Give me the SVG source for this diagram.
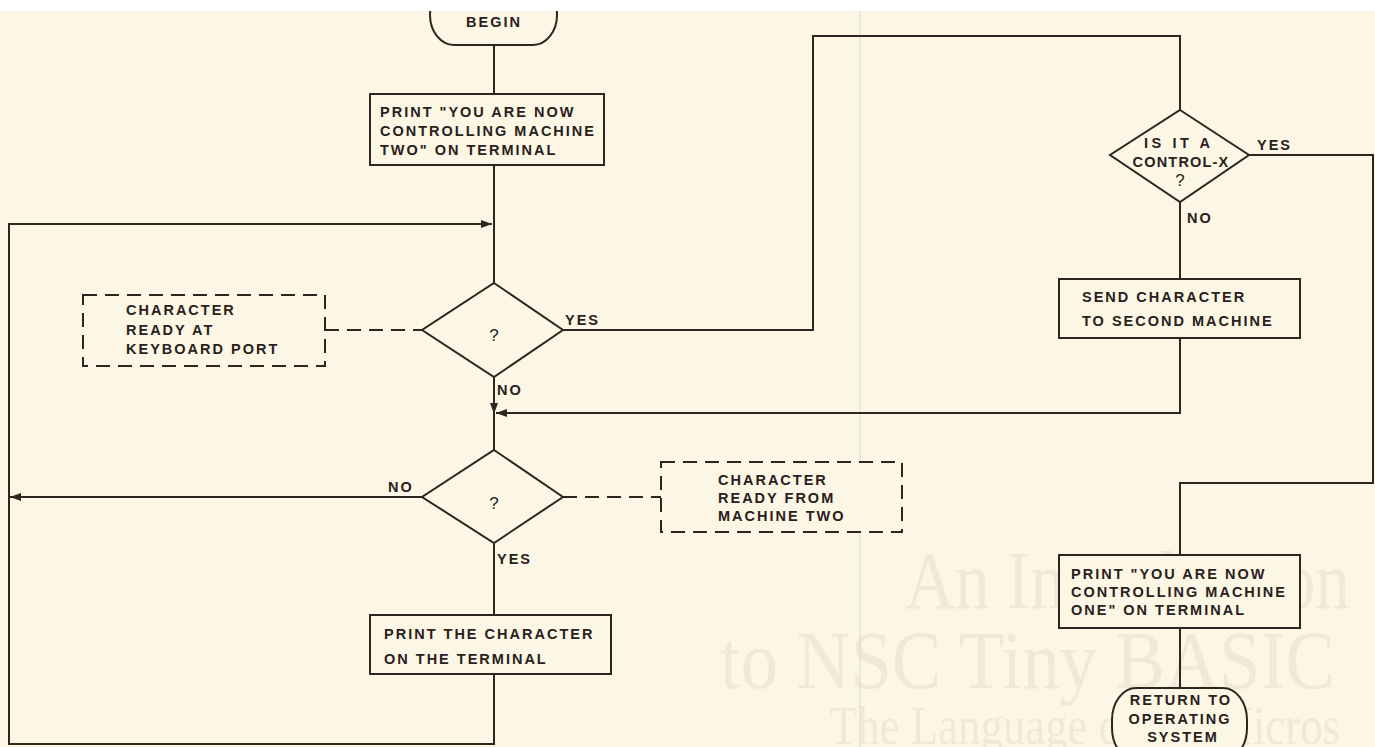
<svg xmlns="http://www.w3.org/2000/svg" width="1375" height="747" viewBox="0 0 1375 747">
<defs>
<style>
.bg{fill:#fbf7e4}
.ln{fill:none;stroke:#2e2420;stroke-width:2;stroke-linejoin:miter}
.box{fill:#fbf7e4;stroke:#2e2420;stroke-width:2}
.dbox{fill:#fbf7e4;stroke:#2e2420;stroke-width:2;stroke-dasharray:14 8}
.dl{fill:none;stroke:#2e2420;stroke-width:2;stroke-dasharray:14 8}
.t{font-family:"Liberation Sans",Arial,sans-serif;font-weight:bold;font-size:14.5px;letter-spacing:2px;fill:#2a201c}
.q{font-family:"Liberation Sans",Arial,sans-serif;font-size:17px;fill:#2a201c;text-anchor:middle}
.c{text-anchor:middle}
.ghost{font-family:"Liberation Serif","Times New Roman",serif;fill:#efe9d6}
</style>
<marker id="ah" viewBox="0 0 11 8" refX="11" refY="4" markerWidth="11" markerHeight="8" markerUnits="userSpaceOnUse" orient="auto">
<path d="M0,0 L11,4 L0,8 z" fill="#2e2420"/>
</marker>
</defs>
<rect class="bg" x="0" y="0" width="1375" height="747"/>
<g id="ghost-text">
<text class="ghost" x="905" y="608" font-size="82" textLength="445" lengthAdjust="spacingAndGlyphs">An Introduction</text>
<text class="ghost" x="720" y="688" font-size="82" textLength="615" lengthAdjust="spacingAndGlyphs">to NSC Tiny BASIC</text>
<text class="ghost" x="830" y="744" font-size="54" textLength="510" lengthAdjust="spacingAndGlyphs">The Language of the Micros</text>
</g>
<line x1="860" y1="11" x2="860" y2="747" stroke="#ded7d2" stroke-width="1"/>
<g id="connectors">
<line class="ln" x1="494" y1="45" x2="494" y2="94"/>
<line class="ln" x1="494" y1="165" x2="494" y2="283"/>
<path class="ln" d="M494,674 L494,744 L9,744 L9,224 L492,224" marker-end="url(#ah)"/>
<line class="ln" x1="494" y1="377" x2="494" y2="414" marker-end="url(#ah)"/>
<line class="ln" x1="494" y1="405" x2="494" y2="450"/>
<path class="ln" d="M563,330 L813,330 L813,36 L1180,36 L1180,110"/>
<line class="ln" x1="1180" y1="202" x2="1180" y2="279"/>
<path class="ln" d="M1180,338 L1180,413 L496,413" marker-end="url(#ah)"/>
<path class="ln" d="M422,497 L10,497" marker-end="url(#ah)"/>
<line class="ln" x1="494" y1="543" x2="494" y2="615"/>
<path class="ln" d="M1249,155 L1373,155 L1373,483 L1180,483 L1180,555"/>
<line class="ln" x1="1180" y1="628" x2="1180" y2="688"/>
<line class="dl" x1="325" y1="330" x2="422" y2="330"/>
<line class="dl" x1="563" y1="497" x2="661" y2="497"/>
<text class="t" x="565" y="325">YES</text>
<text class="t" x="497" y="395">NO</text>
<text class="t" x="388" y="492">NO</text>
<text class="t" x="497" y="564">YES</text>
<text class="t" x="1257" y="150">YES</text>
<text class="t" x="1187" y="223">NO</text>
</g>
<g id="begin">
<rect class="box" x="430" y="-15" width="127" height="60" rx="24" ry="30"/>
<text class="t c" x="494" y="27">BEGIN</text>
</g>
<g id="print-two">
<rect class="box" x="370" y="94" width="234" height="71"/>
<text class="t" x="380" y="117">PRINT "YOU ARE NOW</text>
<text class="t" x="380" y="136">CONTROLLING MACHINE</text>
<text class="t" x="380" y="155">TWO" ON TERMINAL</text>
</g>
<g id="decision-keyboard">
<polygon class="box" points="494,283 563,330 494,377 422,330"/>
<text class="q" x="494" y="341">?</text>
</g>
<g id="note-keyboard">
<rect class="dbox" x="83" y="295" width="242" height="71"/>
<text class="t" x="126" y="315">CHARACTER</text>
<text class="t" x="126" y="335">READY AT</text>
<text class="t" x="126" y="354">KEYBOARD PORT</text>
</g>
<g id="decision-machine">
<polygon class="box" points="494,450 563,497 494,543 422,497"/>
<text class="q" x="494" y="509">?</text>
</g>
<g id="note-machine">
<rect class="dbox" x="661" y="462" width="241" height="70"/>
<text class="t" x="718" y="485">CHARACTER</text>
<text class="t" x="718" y="503">READY FROM</text>
<text class="t" x="718" y="521">MACHINE TWO</text>
</g>
<g id="print-char">
<rect class="box" x="370" y="615" width="241" height="59"/>
<text class="t" x="384" y="639">PRINT THE CHARACTER</text>
<text class="t" x="384" y="664">ON THE  TERMINAL</text>
</g>
<g id="decision-ctrlx">
<polygon class="box" points="1180,110 1249,155 1180,202 1110,155"/>
<text class="t c" x="1178" y="148" textLength="68" lengthAdjust="spacing">IS IT A</text>
<text class="t c" x="1181" y="167" style="letter-spacing:1.2px">CONTROL-X</text>
<text class="q" x="1180" y="186">?</text>
</g>
<g id="send-char">
<rect class="box" x="1059" y="279" width="241" height="59"/>
<text class="t" x="1082" y="302">SEND CHARACTER</text>
<text class="t" x="1082" y="326">TO SECOND MACHINE</text>
</g>
<g id="print-one">
<rect class="box" x="1059" y="555" width="241" height="73"/>
<text class="t" x="1071" y="579">PRINT "YOU ARE NOW</text>
<text class="t" x="1071" y="597">CONTROLLING MACHINE</text>
<text class="t" x="1071" y="615">ONE" ON TERMINAL</text>
</g>
<g id="return">
<rect class="box" x="1112" y="688" width="135" height="72" rx="24" ry="32"/>
<text class="t c" x="1181" y="705">RETURN TO</text>
<text class="t c" x="1180" y="724">OPERATING</text>
<text class="t c" x="1183" y="742">SYSTEM</text>
</g>
<rect x="0" y="0" width="1375" height="11" fill="#ffffff"/>
</svg>
